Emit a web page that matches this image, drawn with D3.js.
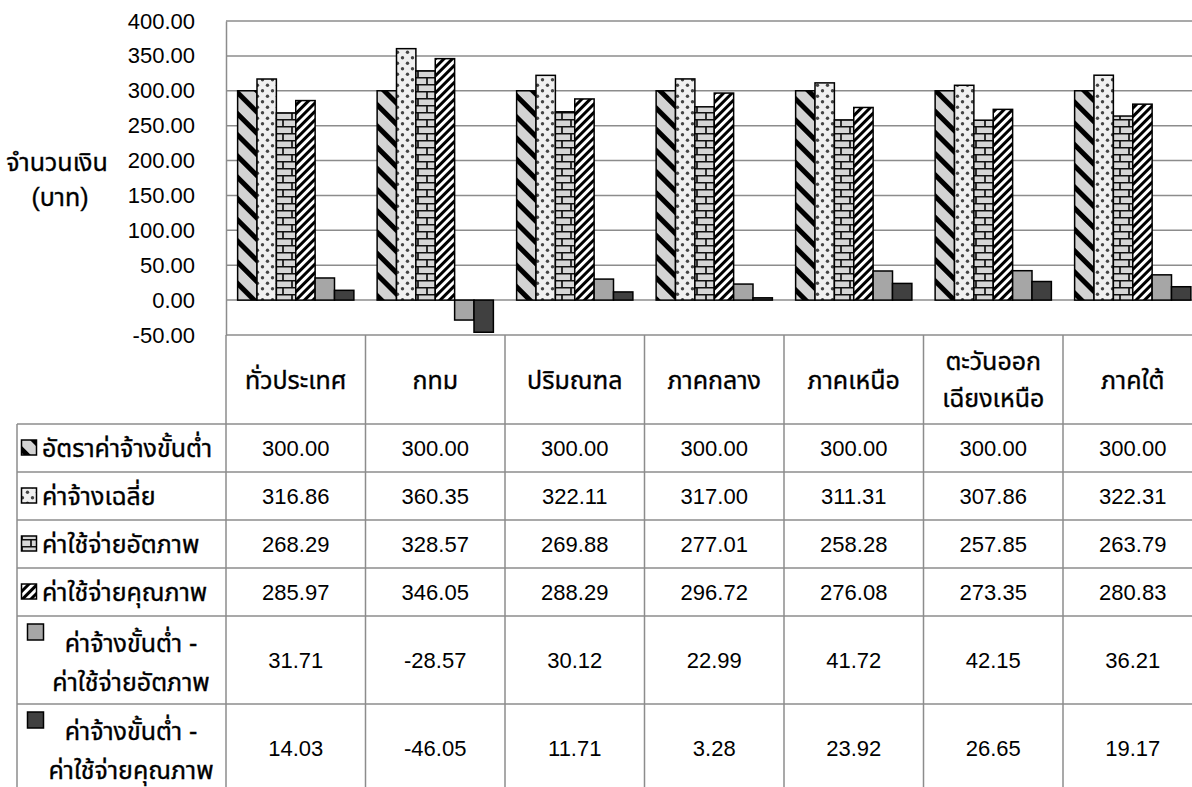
<!DOCTYPE html>
<html>
<head>
<meta charset="utf-8">
<script src="https://cdn.jsdelivr.net/npm/d3@7"></script>
<style>
  body { margin: 0; background: #fff; }
  text { font-family: "Liberation Sans", Arimo, Tahoma, "Noto Sans Thai", "Leelawadee UI", Garuda, Loma, sans-serif; fill: #000; }
  .thai { stroke: #000; stroke-width: 0.35px; }
</style>
</head>
<body>
<svg id="chart" width="1192" height="787"></svg>
<script>
// data
var categories = ["ทั่วประเทศ", "กทม", "ปริมณฑล", "ภาคกลาง", "ภาคเหนือ", "ตะวันออกเฉียงเหนือ", "ภาคใต้"];
var categoryLines = [["ทั่วประเทศ"], ["กทม"], ["ปริมณฑล"], ["ภาคกลาง"], ["ภาคเหนือ"], ["ตะวันออก", "เฉียงเหนือ"], ["ภาคใต้"]];
var seriesNames = ["อัตราค่าจ้างขั้นต่ำ", "ค่าจ้างเฉลี่ย", "ค่าใช้จ่ายอัตภาพ", "ค่าใช้จ่ายคุณภาพ",
                   "ค่าจ้างขั้นต่ำ - ค่าใช้จ่ายอัตภาพ", "ค่าจ้างขั้นต่ำ - ค่าใช้จ่ายคุณภาพ"];
var seriesLines = [["อัตราค่าจ้างขั้นต่ำ"], ["ค่าจ้างเฉลี่ย"], ["ค่าใช้จ่ายอัตภาพ"], ["ค่าใช้จ่ายคุณภาพ"],
                   ["ค่าจ้างขั้นต่ำ -", "ค่าใช้จ่ายอัตภาพ"], ["ค่าจ้างขั้นต่ำ -", "ค่าใช้จ่ายคุณภาพ"]];
var minWage = [300.00, 300.00, 300.00, 300.00, 300.00, 300.00, 300.00];
var avgWage = [316.86, 360.35, 322.11, 317.00, 311.31, 307.86, 322.31];
var subsistCost = [268.29, 328.57, 269.88, 277.01, 258.28, 257.85, 263.79];
var qualityCost = [285.97, 346.05, 288.29, 296.72, 276.08, 273.35, 280.83];
var diffSubsist = [31.71, -28.57, 30.12, 22.99, 41.72, 42.15, 36.21];
var diffQuality = [14.03, -46.05, 11.71, 3.28, 23.92, 26.65, 19.17];
var yTickValues = [-50, 0, 50, 100, 150, 200, 250, 300, 350, 400];

var series = [minWage, avgWage, subsistCost, qualityCost, diffSubsist, diffQuality];

var svg = d3.select("#chart");
var gridColor = "#8c8c8c";
var fmt = function(v) { return v.toFixed(2); };
var thaiSize = 25;

var plotLeft = 226, plotRight = 1202.5;
var headerTop = 335, headerBottom = 424;
var rowHeights = [48, 48, 48, 48, 88, 88];

var x0 = d3.scaleBand().domain(categories).range([plotLeft, plotRight]).padding(0);
var x1 = d3.scaleBand().domain(d3.range(series.length)).range([0, x0.bandwidth()]).paddingInner(0).paddingOuter(0.6);
var y = d3.scaleLinear().domain([-50, 400]).range([335, 21]);

// patterns
var defs = svg.append("defs");

var p1 = defs.append("pattern").attr("id", "pat0").attr("patternUnits", "userSpaceOnUse")
  .attr("width", 15).attr("height", 15).attr("patternTransform", "rotate(45)");
p1.append("rect").attr("width", 15).attr("height", 15).attr("fill", "#d3d3d3");
p1.append("rect").attr("y", 0).attr("width", 15).attr("height", 5).attr("fill", "#000");

var p2 = defs.append("pattern").attr("id", "pat1").attr("patternUnits", "userSpaceOnUse")
  .attr("width", 10).attr("height", 11);
p2.append("rect").attr("width", 10).attr("height", 11).attr("fill", "#f0f0f0");
p2.append("circle").attr("cx", 2.5).attr("cy", 2.7).attr("r", 1.7).attr("fill", "#444");
p2.append("circle").attr("cx", 7.5).attr("cy", 8.2).attr("r", 1.7).attr("fill", "#444");

var p3 = defs.append("pattern").attr("id", "pat2").attr("patternUnits", "userSpaceOnUse")
  .attr("width", 18).attr("height", 14);
p3.append("rect").attr("width", 18).attr("height", 14).attr("fill", "#d6d6d6");
p3.append("path").attr("d", "M0,0.75H18M0,7.75H18M4,0V7M13,7V14")
  .attr("stroke", "#111").attr("stroke-width", 1.7).attr("fill", "none");

var p4 = defs.append("pattern").attr("id", "pat3").attr("patternUnits", "userSpaceOnUse")
  .attr("width", 6).attr("height", 6).attr("patternTransform", "rotate(-45)");
p4.append("rect").attr("width", 6).attr("height", 6).attr("fill", "#fff");
p4.append("rect").attr("width", 6).attr("height", 3).attr("fill", "#000");

var fills = ["url(#pat0)", "url(#pat1)", "url(#pat2)", "url(#pat3)", "#a6a6a6", "#404040"];

// gridlines
svg.append("g").selectAll("line").data(yTickValues).enter().append("line")
  .attr("x1", plotLeft).attr("x2", plotRight)
  .attr("y1", function(d) { return y(d); }).attr("y2", function(d) { return y(d); })
  .attr("stroke", gridColor).attr("stroke-width", 1.5);

// y axis
var yAxis = svg.append("g").attr("transform", "translate(" + plotLeft + ",0)")
  .call(d3.axisLeft(y).tickValues(yTickValues).tickFormat(fmt).tickSize(0).tickPadding(31));
yAxis.select(".domain").attr("stroke", gridColor).attr("stroke-width", 1.5);
yAxis.selectAll("text").attr("font-size", 22).attr("fill", "#000")
  .style("font-family", "'Liberation Sans', Arimo, sans-serif");

svg.append("text").attr("class", "thai").attr("x", 57).attr("y", 162).attr("text-anchor", "middle")
  .attr("dominant-baseline", "central").attr("font-size", thaiSize).text("จำนวนเงิน");
svg.append("text").attr("class", "thai").attr("x", 60).attr("y", 197).attr("text-anchor", "middle")
  .attr("dominant-baseline", "central").attr("font-size", thaiSize).text("(บาท)");

// bars
for (var s = 0; s < series.length; s++) {
  svg.append("g").selectAll("rect").data(series[s]).enter().append("rect")
    .attr("x", function(d, i) { return x0(categories[i]) + x1(s); })
    .attr("width", x1.bandwidth())
    .attr("y", function(d) { return y(Math.max(d, 0)); })
    .attr("height", function(d) { return Math.abs(y(d) - y(0)); })
    .attr("fill", fills[s])
    .attr("stroke", "#000").attr("stroke-width", 1.5);
}

// data table
var table = svg.append("g");
var rowTops = [headerBottom];
for (var r = 0; r < rowHeights.length; r++) rowTops.push(rowTops[r] + rowHeights[r]);

function hline(x1p, x2p, yp) {
  table.append("line").attr("x1", x1p).attr("x2", x2p).attr("y1", yp).attr("y2", yp)
    .attr("stroke", gridColor).attr("stroke-width", 1.5);
}
function vline(xp, y1p, y2p) {
  table.append("line").attr("x1", xp).attr("x2", xp).attr("y1", y1p).attr("y2", y2p)
    .attr("stroke", gridColor).attr("stroke-width", 1.5);
}

rowTops.forEach(function(t) { hline(17, plotRight, t); });
vline(17, headerBottom, 800);
vline(plotLeft, y(-50), 800);
categories.forEach(function(c) { vline(x0(c) + x0.bandwidth(), headerTop, 800); });

// header labels
categories.forEach(function(c, i) {
  var lines = categoryLines[i];
  var cy = (headerTop + headerBottom) / 2;
  lines.forEach(function(l, k) {
    table.append("text").attr("class", "thai").attr("x", x0(c) + x0.bandwidth() / 2)
      .attr("y", cy + (k - (lines.length - 1) / 2) * 37)
      .attr("text-anchor", "middle").attr("dominant-baseline", "central")
      .attr("font-size", thaiSize).text(l);
  });
});

// rows
series.forEach(function(vals, s) {
  var top = rowTops[s], mid = top + rowHeights[s] / 2;
  var lines = seriesLines[s];
  if (lines.length == 1) {
    table.append("rect").attr("x", 21.5).attr("y", mid - 8).attr("width", 15).attr("height", 15)
      .attr("fill", fills[s]).attr("stroke", "#000").attr("stroke-width", 1.5);
    table.append("text").attr("class", "thai").attr("x", 42).attr("y", mid).attr("dominant-baseline", "central")
      .attr("font-size", thaiSize).text(lines[0]);
  } else {
    table.append("rect").attr("x", 27.5).attr("y", mid - 36).attr("width", 16).attr("height", 16)
      .attr("fill", fills[s]).attr("stroke", "#000").attr("stroke-width", 1.5);
    lines.forEach(function(l, k) {
      table.append("text").attr("class", "thai").attr("x", 131).attr("y", mid + (k - 0.5) * 39 + 2)
        .attr("text-anchor", "middle").attr("dominant-baseline", "central")
        .attr("font-size", thaiSize).text(l);
    });
  }
  vals.forEach(function(v, i) {
    table.append("text").attr("x", x0(categories[i]) + x0.bandwidth() / 2).attr("y", mid)
      .attr("text-anchor", "middle").attr("dominant-baseline", "central")
      .attr("font-size", 22).text(fmt(v));
  });
});
</script>
</body>
</html>
